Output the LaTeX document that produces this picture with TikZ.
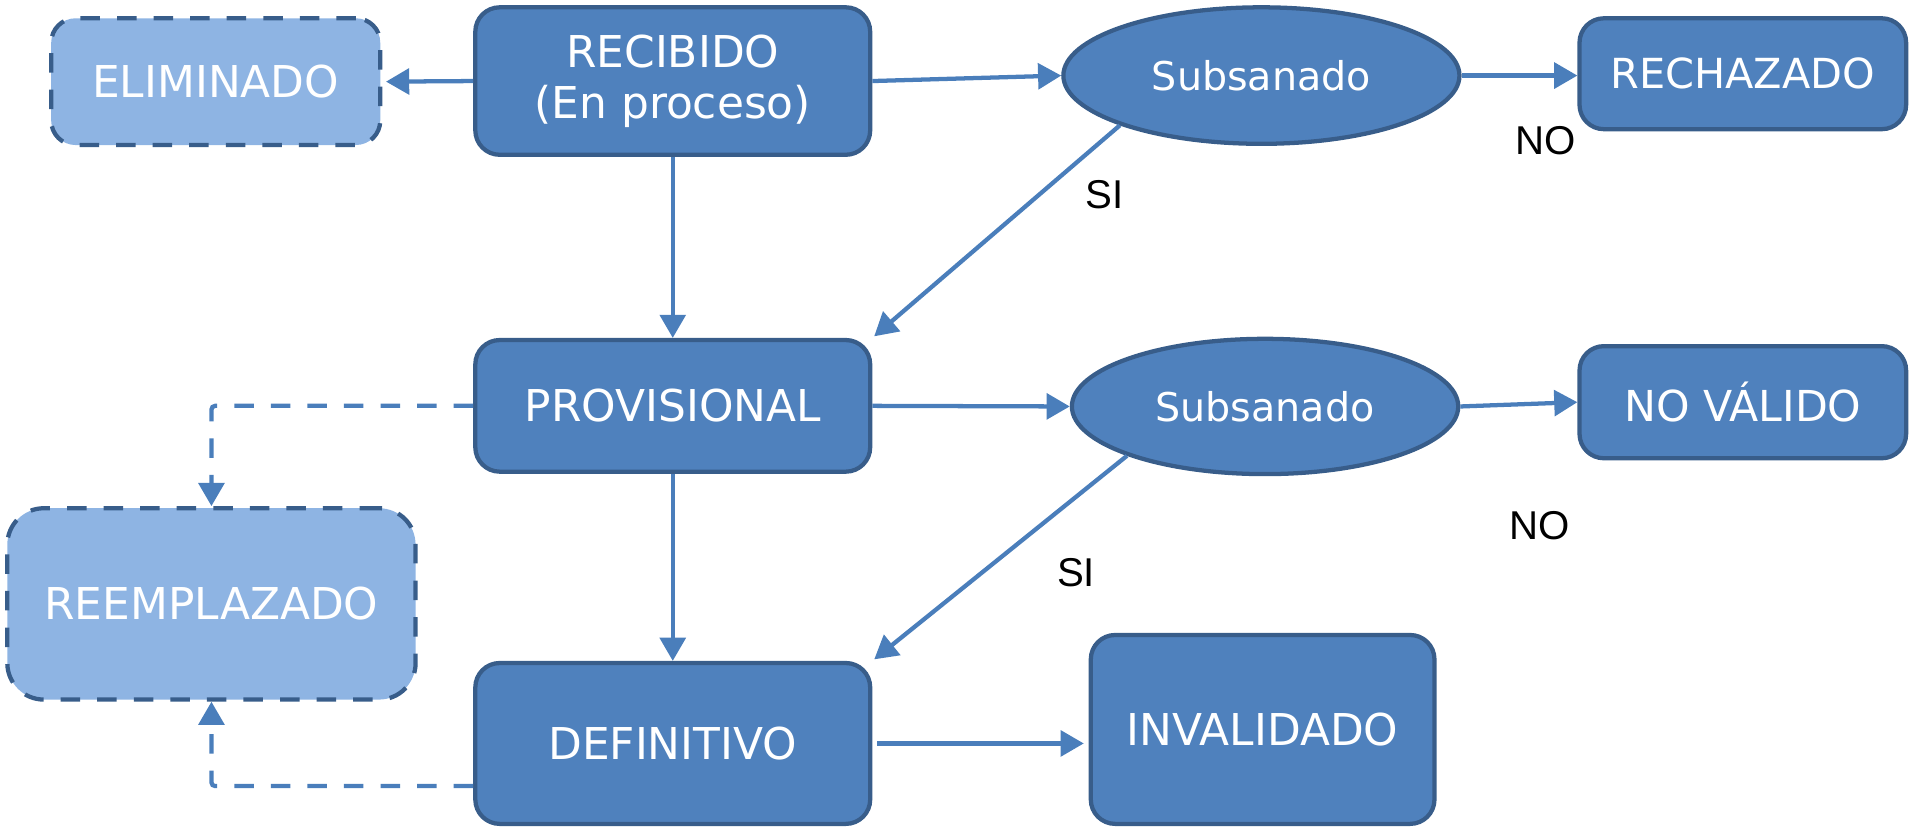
\documentclass[tikz,border=0pt]{standalone}
\usepackage{fontspec}
\setmainfont{DejaVu Sans}
\newfontfamily\labfont{Liberation Sans}
\usetikzlibrary{arrows.meta,shapes.geometric,calc}
\definecolor{fillc}{HTML}{4F81BD}
\definecolor{bdrc}{HTML}{385D8A}
\definecolor{linec}{HTML}{4A7EBB}
\definecolor{lightc}{HTML}{8EB4E3}
\tikzset{
  box/.style={draw=bdrc, fill=fillc, line width=3.5pt, rounded corners=20pt,
    text=white, font=\fontsize{36}{42}\selectfont, align=center, inner sep=0pt},
  dbox/.style={box, fill=lightc, dash pattern=on 16pt off 14pt},
  oval/.style={ellipse, draw=bdrc, fill=fillc, line width=3.5pt, text=white,
    font=\fontsize{32.5}{38}\selectfont, inner sep=0pt},
  conn/.style={draw=linec, line width=3.5pt, -{Triangle[length=19pt,width=21pt]}},
  dconn/.style={conn, dash pattern=on 16pt off 14pt, rounded corners=3pt},
  lab/.style={font=\labfont\fontsize{33}{38}\selectfont, text=black, inner sep=0pt}
}
\begin{document}
\begin{tikzpicture}[x=1pt,y=-1pt]
\useasboundingbox (0,0) rectangle (1568,678);
\node[dbox, minimum width=270pt, minimum height=104pt] (elim) at (177,67) {ELIMINADO};
\node[box, minimum width=324pt, minimum height=121pt] (rec) at (552,66.5) {RECIBIDO\\(En proceso)};
\node[oval, minimum width=325pt, minimum height=112pt] (e1) at (1035,62) {Subsanado};
\node[box, font=\fontsize{34}{40}\selectfont, minimum width=268pt, minimum height=91pt] (rech) at (1430,60.5) {RECHAZADO};
\node[box, minimum width=324pt, minimum height=108pt] (prov) at (552,333) {PROVISIONAL};
\node[oval, minimum width=317pt, minimum height=111pt] (e2) at (1038,333.5) {Subsanado};
\node[box, font=\fontsize{35}{40}\selectfont, minimum width=268pt, minimum height=92pt] (nov) at (1430,330) {NO VÁLIDO};
\node[dbox, rounded corners=30pt, minimum width=335pt, minimum height=157pt] (reem) at (173.5,495.5) {REEMPLAZADO};
\node[box, minimum width=324pt, minimum height=132pt] (def) at (552,610) {DEFINITIVO};
\node[box, minimum width=282pt, minimum height=155pt] (inv) at (1036,598.5) {INVALIDADO};

\node[lab] (si1) at (906,160) {SI};
\node[lab] (no1) at (1268,115) {NO};
\node[lab] (no2) at (1263,431) {NO};
\node[lab] (si2) at (883,470) {SI};

\draw[conn, shorten >=3pt] (rec.west) -- (elim.east);
\draw[conn] (rec.east) -- (e1.west);
\draw[conn] (e1.east) -- (rech.west |- e1.east);
\draw[conn, shorten >=2pt] (e1.south west) -- (prov.north east);
\draw[conn] (rec.south) -- (prov.north);
\draw[conn] (prov.east) -- (e2.west);
\draw[conn] (e2.east) -- (nov.west);
\draw[conn, shorten >=2pt] (e2.south west) -- (def.north east);
\draw[conn] (prov.south) -- (def.north);
\coordinate (dA) at ($(def.east)+(0,0)$);
\draw[conn, shorten <=4pt, shorten >=4pt] (dA) -- (dA -| inv.west);
\draw[dconn] (prov.west) -| (reem.north);
\coordinate (dB) at ($(def.west)+(0,35)$);
\draw[dconn] (dB) -| (reem.south);
\end{tikzpicture}
\end{document}
